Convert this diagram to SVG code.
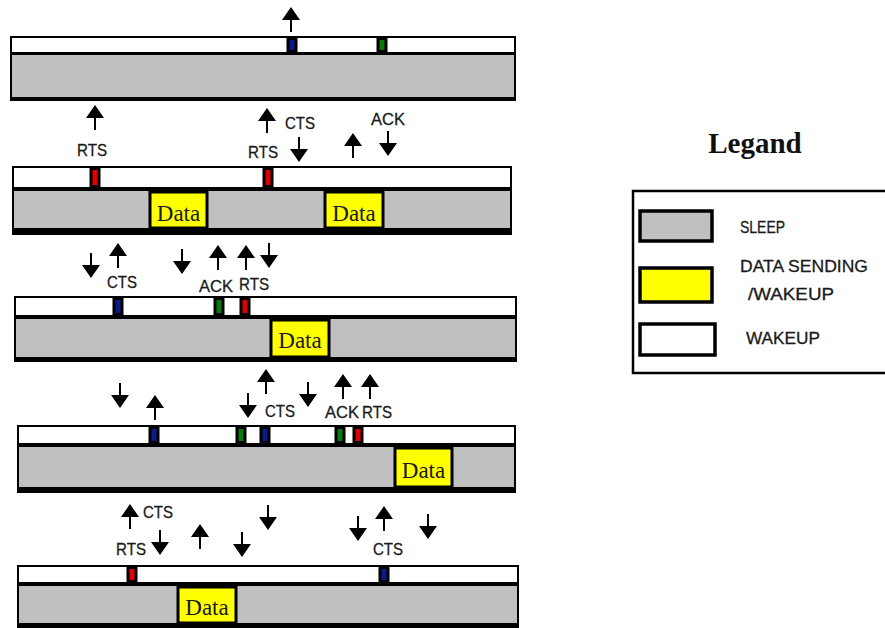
<svg xmlns="http://www.w3.org/2000/svg" xmlns:xlink="http://www.w3.org/1999/xlink" width="885" height="628" viewBox="0 0 885 628">
  <style>
    .frame { fill: #000; }
    .wake { fill: #fff; }
    .sleep { fill: #c0c0c0; }
    .data { fill: #ffff00; stroke: #000; stroke-width: 3; }
    .dtxt { font-family: "Liberation Serif", "Times New Roman", serif; font-size: 23px; fill: #1a1a1a; text-anchor: middle; }
    .mk { stroke: #000; stroke-width: 3; }
    .rts { fill: #e00000; }
    .cts { fill: #0a1a8a; }
    .ack { fill: #0a7a0a; }
    .lbl { font-family: "Liberation Sans", Arial, sans-serif; font-size: 16.5px; fill: #1a1a1a; text-anchor: middle; stroke: #1a1a1a; stroke-width: 0.3; }
    .arrow { fill: #000; }
    .leg { font-family: "Liberation Sans", Arial, sans-serif; font-size: 17px; fill: #1a1a1a; stroke: #1a1a1a; stroke-width: 0.3; }
    .title { font-family: "Liberation Serif", "Times New Roman", serif; font-size: 29px; font-weight: bold; fill: #111; text-anchor: middle; }
    .sw { stroke: #000; stroke-width: 3.5; }
  </style>
  <defs>
    <!-- arrow glyphs: up is anchored at its tip, down at its tail -->
    <path id="up" class="arrow" d="M0,0 L9,13 L1,13 L1,25 L-1,25 L-1,13 L-9,13 Z"/>
    <path id="down" class="arrow" d="M0,25 L9,12 L1,12 L1,0 L-1,0 L-1,12 L-9,12 Z"/>
  </defs>

  <!-- timeline 1 -->
  <g id="node-1">
    <rect class="frame" x="10" y="36" width="506" height="65"/>
    <rect class="wake" x="12" y="38" width="502" height="14"/>
    <rect class="sleep" x="12" y="55" width="502" height="42"/>
    <rect class="mk cts" x="288" y="38.5" width="8" height="13"/>
    <rect class="mk ack" x="378" y="38.5" width="8" height="13"/>
  </g>

  <!-- timeline 2 -->
  <g id="node-2">
    <rect class="frame" x="12" y="166" width="500" height="69"/>
    <rect class="wake" x="14" y="168" width="496" height="19"/>
    <rect class="sleep" x="14" y="191" width="496" height="37"/>
    <rect class="mk rts" x="91" y="168.5" width="8" height="18"/>
    <rect class="mk rts" x="264" y="168.5" width="8" height="18"/>
    <rect class="data" x="150" y="192" width="57" height="36"/>
    <text class="dtxt" x="178.5" y="221">Data</text>
    <rect class="data" x="325" y="192" width="58" height="36"/>
    <text class="dtxt" x="354" y="221">Data</text>
  </g>

  <!-- timeline 3 -->
  <g id="node-3">
    <rect class="frame" x="14" y="296" width="503" height="66"/>
    <rect class="wake" x="16" y="298" width="499" height="17"/>
    <rect class="sleep" x="16" y="319" width="499" height="38"/>
    <rect class="mk cts" x="114" y="298.5" width="8" height="16"/>
    <rect class="mk ack" x="215" y="298.5" width="8" height="16"/>
    <rect class="mk rts" x="241" y="298.5" width="8" height="16"/>
    <rect class="data" x="271" y="320" width="58" height="37"/>
    <text class="dtxt" x="300" y="348">Data</text>
  </g>

  <!-- timeline 4 -->
  <g id="node-4">
    <rect class="frame" x="17" y="425" width="499" height="68"/>
    <rect class="wake" x="19" y="427" width="495" height="16"/>
    <rect class="sleep" x="19" y="447" width="495" height="40"/>
    <rect class="mk cts" x="150" y="427.5" width="8" height="15"/>
    <rect class="mk ack" x="237" y="427.5" width="8" height="15"/>
    <rect class="mk cts" x="261" y="427.5" width="8" height="15"/>
    <rect class="mk ack" x="336" y="427.5" width="8" height="15"/>
    <rect class="mk rts" x="354" y="427.5" width="8" height="15"/>
    <rect class="data" x="395" y="448" width="57" height="39"/>
    <text class="dtxt" x="423.5" y="478">Data</text>
  </g>

  <!-- timeline 5 -->
  <g id="node-5">
    <rect class="frame" x="17" y="565" width="502" height="63"/>
    <rect class="wake" x="19" y="567" width="498" height="15"/>
    <rect class="sleep" x="19" y="586" width="498" height="37"/>
    <rect class="mk rts" x="128" y="567.5" width="8" height="14"/>
    <rect class="mk cts" x="380" y="567.5" width="8" height="14"/>
    <rect class="data" x="178" y="587" width="58" height="36"/>
    <text class="dtxt" x="207" y="615">Data</text>
  </g>

  <!-- message arrows and their labels -->
  <g id="connectors">
    <use href="#up" x="291" y="7"/>

    <use href="#up" x="95" y="105"/>
    <use href="#up" x="267" y="108"/>
    <use href="#down" x="299" y="137"/>
    <use href="#up" x="353" y="133"/>
    <use href="#down" x="388" y="131"/>
    <text class="lbl" x="92" y="156" textLength="30" lengthAdjust="spacingAndGlyphs">RTS</text>
    <text class="lbl" x="300" y="129" textLength="30" lengthAdjust="spacingAndGlyphs">CTS</text>
    <text class="lbl" x="263" y="158" textLength="30" lengthAdjust="spacingAndGlyphs">RTS</text>
    <text class="lbl" x="388" y="125" textLength="34" lengthAdjust="spacingAndGlyphs">ACK</text>

    <use href="#down" x="91" y="253"/>
    <use href="#up" x="118" y="243"/>
    <use href="#down" x="182" y="249"/>
    <use href="#up" x="218" y="245"/>
    <use href="#up" x="246" y="245"/>
    <use href="#down" x="269" y="243"/>
    <text class="lbl" x="122" y="288" textLength="30" lengthAdjust="spacingAndGlyphs">CTS</text>
    <text class="lbl" x="216" y="292" textLength="34" lengthAdjust="spacingAndGlyphs">ACK</text>
    <text class="lbl" x="254" y="290" textLength="30" lengthAdjust="spacingAndGlyphs">RTS</text>

    <use href="#down" x="120" y="383"/>
    <use href="#up" x="155" y="395"/>
    <use href="#down" x="248" y="393"/>
    <use href="#up" x="266" y="369"/>
    <use href="#down" x="308" y="382"/>
    <use href="#up" x="343" y="374"/>
    <use href="#up" x="370" y="374"/>
    <text class="lbl" x="280" y="417" textLength="30" lengthAdjust="spacingAndGlyphs">CTS</text>
    <text class="lbl" x="342" y="418" textLength="34" lengthAdjust="spacingAndGlyphs">ACK</text>
    <text class="lbl" x="377" y="418" textLength="30" lengthAdjust="spacingAndGlyphs">RTS</text>

    <use href="#up" x="130" y="504"/>
    <use href="#down" x="160" y="530"/>
    <use href="#up" x="200" y="524"/>
    <use href="#down" x="242" y="532"/>
    <use href="#down" x="268" y="505"/>
    <use href="#down" x="358" y="516"/>
    <use href="#up" x="384" y="506"/>
    <use href="#down" x="428" y="514"/>
    <text class="lbl" x="158" y="518" textLength="30" lengthAdjust="spacingAndGlyphs">CTS</text>
    <text class="lbl" x="131" y="555" textLength="30" lengthAdjust="spacingAndGlyphs">RTS</text>
    <text class="lbl" x="388" y="555" textLength="30" lengthAdjust="spacingAndGlyphs">CTS</text>
  </g>

  <!-- legend -->
  <g id="legend">
    <text class="title" x="755" y="153">Legand</text>
    <rect x="633" y="191" width="270" height="182" fill="#fff" stroke="#000" stroke-width="2.5"/>
    <rect class="sw sleep" x="640" y="211" width="72" height="30"/>
    <rect class="sw" fill="#ffff00" x="640" y="268" width="72" height="34"/>
    <rect class="sw" fill="#fff" x="640" y="324" width="75" height="31"/>
    <text class="leg" x="740" y="233" textLength="45" lengthAdjust="spacingAndGlyphs">SLEEP</text>
    <text class="leg" x="740" y="272" textLength="128" lengthAdjust="spacingAndGlyphs">DATA SENDING</text>
    <text class="leg" x="748" y="300" textLength="86" lengthAdjust="spacingAndGlyphs">/WAKEUP</text>
    <text class="leg" x="746" y="344" textLength="74" lengthAdjust="spacingAndGlyphs">WAKEUP</text>
  </g>
</svg>
